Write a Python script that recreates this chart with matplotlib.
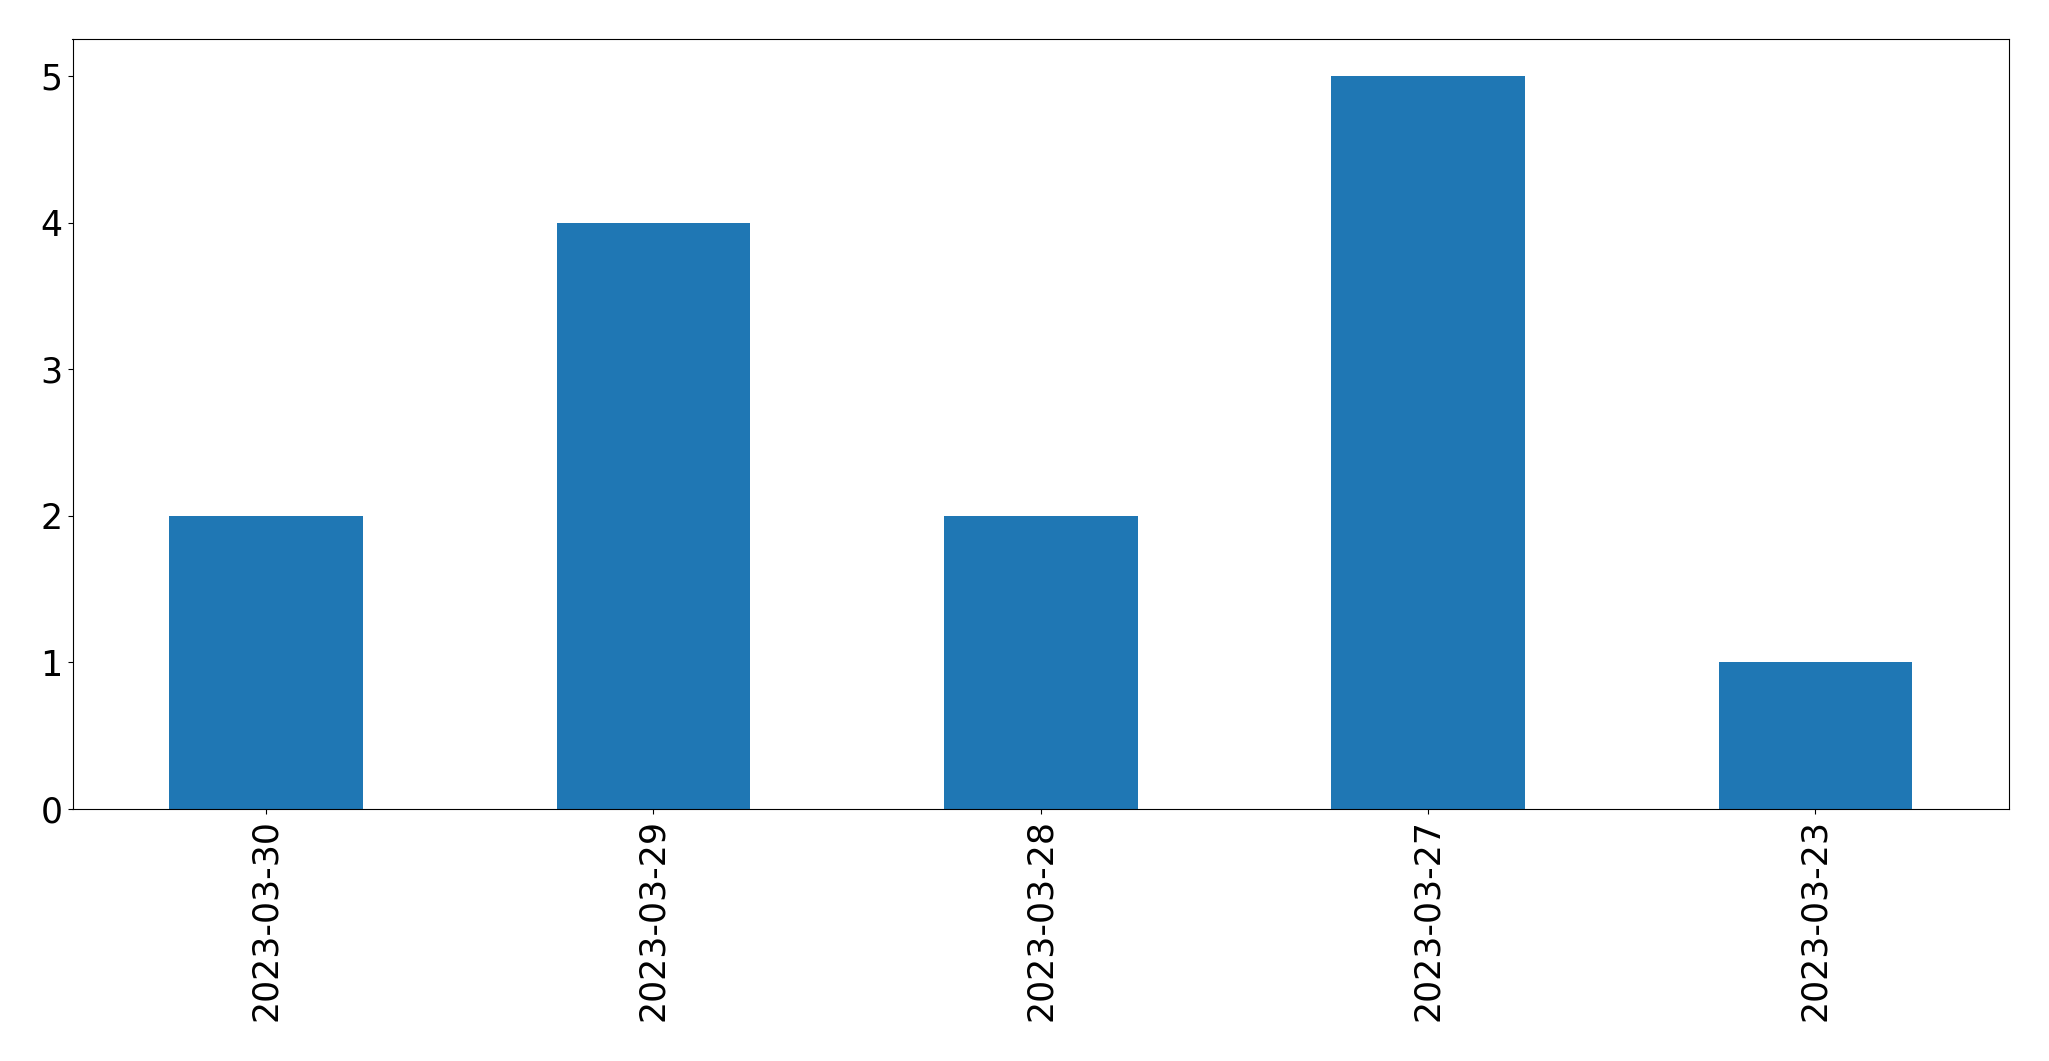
import matplotlib
matplotlib.use('Agg')
import pandas as pd
from matplotlib import pyplot as plt

dates = ['2023-03-30', '2023-03-29', '2023-03-28', '2023-03-27', '2023-03-23']
counts = [2, 4, 2, 5, 1]

fig = plt.figure(figsize=(20.49, 10.61), dpi=100)
# [left, bottom, width, height] in figure fractions
ax = fig.add_axes((72.5 / 2049, 1 - 809 / 1061, (2009 - 72.5) / 2049, (809 - 39.3) / 1061))

series = pd.Series(counts, index=dates)
series.plot(kind='bar', ax=ax, color='#1f77b4', fontsize=25)
ax.set_xlabel('')
ax.set_ylim(0, 5.25)

fig.savefig('out.png', dpi=100)
